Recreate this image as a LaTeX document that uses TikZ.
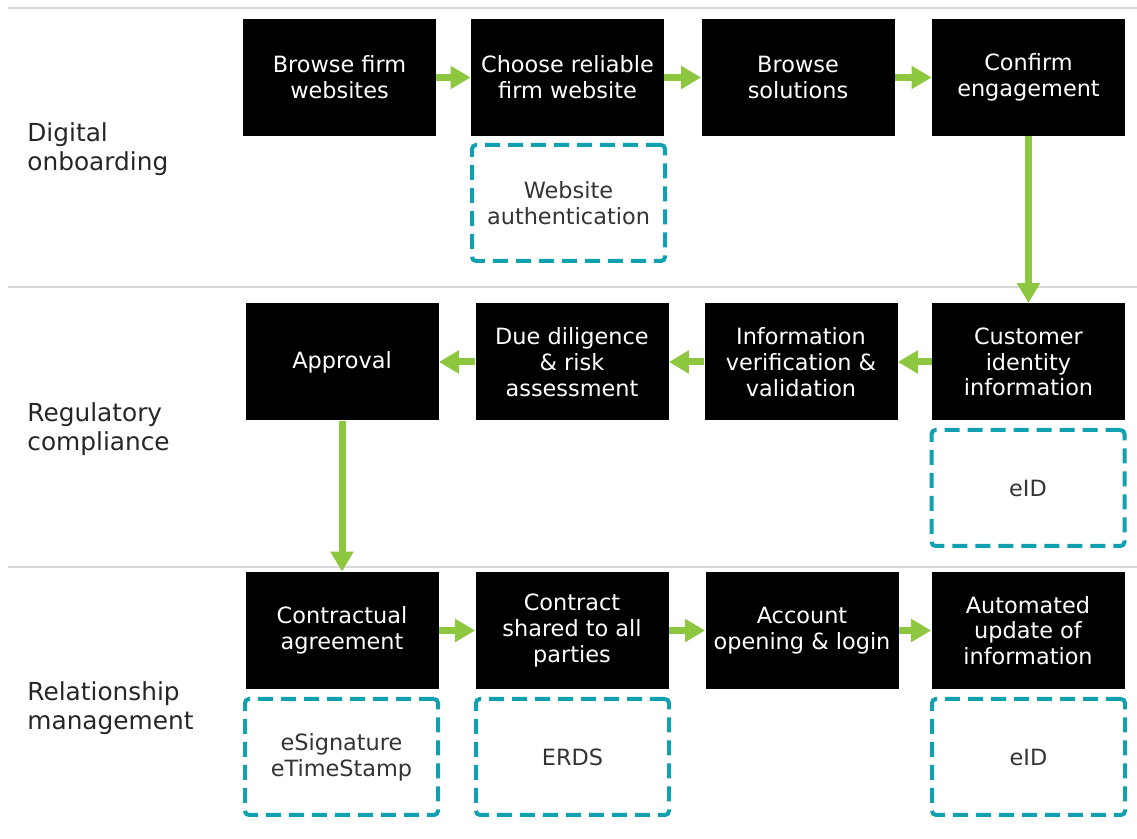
\documentclass[tikz,border=0pt]{standalone}
\usepackage{fontspec}
\setmainfont{DejaVu Sans}
\usetikzlibrary{arrows.meta}

\definecolor{flowgreen}{RGB}{141,198,63}
\definecolor{toolteal}{RGB}{16,160,175}
\definecolor{rulegray}{RGB}{215,215,215}

\tikzstyle{stage}=[fill=black, text=white, minimum width=96.5pt, minimum height=58.5pt, inner sep=0pt, align=center, font=\fontsize{11.2}{12.9}\selectfont]
\tikzstyle{service}=[draw=toolteal, line width=2pt, dash pattern=on 7.5pt off 4pt, rounded corners=2pt, minimum width=96.5pt, minimum height=58pt, inner sep=0pt, align=center, text=black!80, font=\fontsize{11.2}{13}\selectfont]
\tikzstyle{phase}=[anchor=west, align=left, inner sep=0pt, text=black!85, font=\fontsize{12.4}{14.5}\selectfont]
\tikzstyle{arrow}=[line width=3.5pt, flowgreen, -{Triangle[length=10pt, width=11pt]}]
\tikzstyle{divider}=[rulegray, line width=1pt]

\begin{document}
\begin{tikzpicture}[x=0.5pt, y=-0.5pt]
      \useasboundingbox (0,0) rectangle (1137,839);

      \draw[divider] (8,8) -- (1137,8);
      \draw[divider] (8,287) -- (1137,287);
      \draw[divider] (8,567) -- (1137,567);

      \node[phase] (onboarding) at (27,149) {Digital\\onboarding};
      \node[phase] (compliance) at (27,429) {Regulatory\\compliance};
      \node[phase] (relationship) at (27,708) {Relationship\\management};

      \node[stage] (browse) at (339.5,77.5) {Browse firm\\websites};
      \node[stage] (choose) at (567.5,77.5) {Choose reliable\\firm website};
      \node[stage] (solutions) at (798,77.5) {Browse\\solutions};
      \node[stage] (confirm) at (1028.5,77.5) {Confirm\\engagement};
      \node[service] (webauth) at (568.5,203) {Website\\authentication};

      \node[stage] (customer) at (1028.5,362) {Customer\\identity\\information};
      \node[stage] (verify) at (801,362) {Information\\verification \&\\validation};
      \node[stage] (diligence) at (572,362) {Due diligence\\\& risk\\assessment};
      \node[stage] (approval) at (342,362) {Approval};
      \node[service] (eidreg) at (1028,488) {eID};

      \node[stage] (contract) at (342,630.5) {Contractual\\agreement};
      \node[stage] (shared) at (572,630.5) {Contract\\shared to all\\parties};
      \node[stage] (account) at (802,630.5) {Account\\opening \& login};
      \node[stage] (update) at (1028,630.5) {Automated\\update of\\information};
      \node[service] (esign) at (341.5,757) {eSignature\\eTimeStamp};
      \node[service] (erds) at (572.5,757) {ERDS};
      \node[service] (eidrel) at (1028.5,757) {eID};

      \draw[arrow] (browse) to (choose);
      \draw[arrow] (choose) to (solutions);
      \draw[arrow] (solutions) to (confirm);
      \draw[arrow] (confirm) to (customer);
      \draw[arrow] (customer) to (verify);
      \draw[arrow] (verify) to (diligence);
      \draw[arrow] (diligence) to (approval);
      \draw[arrow] (approval) to (contract);
      \draw[arrow] (contract) to (shared);
      \draw[arrow] (shared) to (account);
      \draw[arrow] (account) to (update);
    \end{tikzpicture}
\end{document}
